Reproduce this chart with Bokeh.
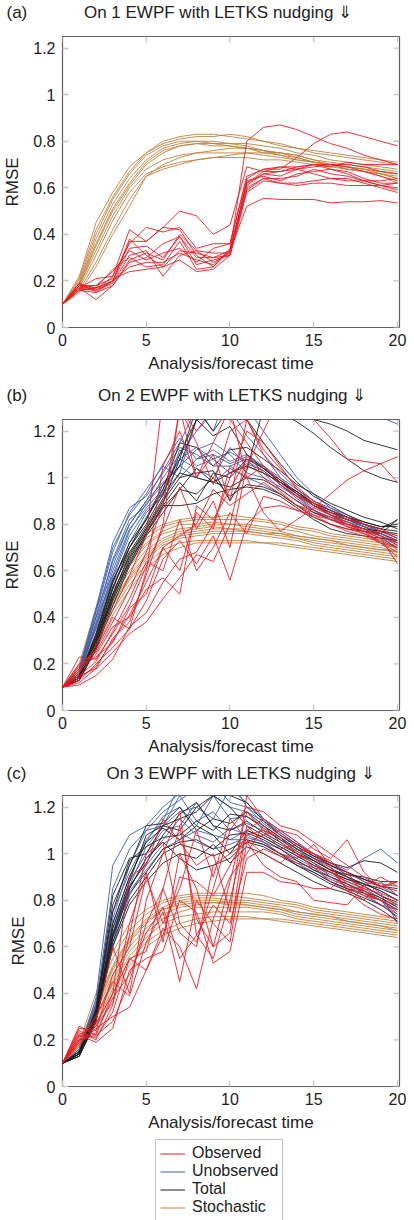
from bokeh.plotting import figure
from bokeh.models import Range1d, FixedTicker, Legend, LegendItem
from bokeh.layouts import column
from bokeh.embed import file_html
from bokeh.resources import INLINE

# ---------------- data ----------------
T = list(range(21))
X_TICKS = [0, 5, 10, 15, 20]
Y_TICKS = [0, 0.2, 0.4, 0.6, 0.8, 1, 1.2]
Y_LABELS = ["0", "0.2", "0.4", "0.6", "0.8", "1", "1.2"]
SERIES = ["Observed", "Unobserved", "Total", "Stochastic"]
PANEL_TAGS = ["(a)", "(b)", "(c)"]
PANEL_TITLES = ["On 1 EWPF with LETKS nudging \u21d3",
                "On 2 EWPF with LETKS nudging \u21d3",
                "On 3 EWPF with LETKS nudging \u21d3"]

# Panel (a): 1 EWPF
A_STOCH = [
    [0.10,0.22,0.45,0.58,0.69,0.75,0.80,0.82,0.83,0.83,0.82,0.81,0.80,0.79,0.77,0.76,0.75,0.74,0.73,0.72,0.71],
    [0.10,0.21,0.42,0.56,0.67,0.75,0.79,0.81,0.82,0.82,0.83,0.82,0.80,0.78,0.77,0.75,0.74,0.73,0.72,0.71,0.70],
    [0.10,0.20,0.40,0.55,0.66,0.74,0.78,0.80,0.80,0.80,0.79,0.79,0.78,0.77,0.75,0.74,0.72,0.71,0.70,0.69,0.68],
    [0.10,0.19,0.38,0.53,0.64,0.72,0.77,0.79,0.80,0.79,0.79,0.78,0.76,0.75,0.74,0.72,0.71,0.70,0.69,0.68,0.67],
    [0.10,0.19,0.36,0.51,0.62,0.71,0.76,0.78,0.79,0.79,0.78,0.77,0.76,0.74,0.73,0.71,0.70,0.69,0.68,0.67,0.66],
    [0.10,0.18,0.35,0.50,0.61,0.70,0.75,0.78,0.79,0.78,0.78,0.77,0.75,0.74,0.72,0.71,0.70,0.68,0.67,0.66,0.65],
    [0.10,0.18,0.33,0.48,0.60,0.68,0.72,0.74,0.75,0.75,0.75,0.75,0.74,0.73,0.72,0.71,0.70,0.69,0.68,0.67,0.66],
    [0.10,0.17,0.31,0.46,0.58,0.66,0.69,0.71,0.72,0.73,0.73,0.73,0.72,0.72,0.71,0.70,0.69,0.68,0.67,0.66,0.64],
    [0.10,0.16,0.28,0.42,0.55,0.65,0.68,0.70,0.72,0.73,0.74,0.75,0.75,0.75,0.74,0.72,0.70,0.69,0.68,0.66,0.64],
    [0.10,0.15,0.26,0.40,0.52,0.65,0.70,0.73,0.75,0.76,0.77,0.77,0.76,0.75,0.73,0.71,0.70,0.68,0.67,0.65,0.62],
]
A_OBS = [
    [0.10,0.19,0.16,0.22,0.42,0.37,0.43,0.42,0.31,0.26,0.33,0.80,0.86,0.87,0.85,0.82,0.79,0.77,0.74,0.72,0.70],
    [0.10,0.18,0.17,0.20,0.37,0.37,0.43,0.50,0.48,0.40,0.44,0.69,0.67,0.69,0.68,0.70,0.70,0.69,0.67,0.65,0.63],
    [0.10,0.17,0.21,0.22,0.36,0.43,0.41,0.43,0.34,0.36,0.36,0.65,0.68,0.68,0.73,0.79,0.83,0.84,0.82,0.80,0.78],
    [0.10,0.19,0.15,0.20,0.34,0.35,0.30,0.39,0.30,0.30,0.33,0.62,0.67,0.67,0.69,0.70,0.69,0.71,0.70,0.70,0.70],
    [0.10,0.16,0.17,0.25,0.30,0.26,0.27,0.37,0.25,0.26,0.34,0.61,0.66,0.65,0.68,0.69,0.70,0.70,0.69,0.67,0.66],
    [0.10,0.18,0.16,0.19,0.31,0.33,0.22,0.31,0.33,0.32,0.32,0.63,0.65,0.63,0.66,0.67,0.68,0.67,0.64,0.62,0.62],
    [0.10,0.17,0.12,0.18,0.28,0.30,0.36,0.39,0.27,0.29,0.31,0.60,0.64,0.64,0.65,0.68,0.66,0.65,0.63,0.61,0.60],
    [0.10,0.18,0.18,0.24,0.33,0.29,0.32,0.34,0.28,0.34,0.36,0.64,0.68,0.69,0.69,0.70,0.68,0.66,0.63,0.61,0.59],
    [0.10,0.16,0.15,0.18,0.29,0.32,0.29,0.40,0.33,0.28,0.32,0.62,0.66,0.67,0.68,0.66,0.64,0.64,0.62,0.60,0.58],
    [0.10,0.17,0.18,0.21,0.24,0.25,0.26,0.29,0.24,0.25,0.31,0.58,0.63,0.62,0.61,0.62,0.62,0.61,0.61,0.61,0.62],
    [0.10,0.17,0.16,0.20,0.38,0.31,0.26,0.33,0.32,0.30,0.31,0.59,0.64,0.62,0.62,0.63,0.64,0.63,0.63,0.63,0.64],
    [0.10,0.16,0.17,0.20,0.26,0.28,0.28,0.32,0.29,0.27,0.33,0.52,0.555,0.55,0.55,0.55,0.535,0.54,0.54,0.545,0.535],
]
A_UNOBS = []
A_TOTAL = []

# Panel (b): 2 EWPF
B_STOCH = [
    [0.10,0.20,0.44,0.58,0.68,0.76,0.80,0.82,0.83,0.83,0.84,0.83,0.82,0.81,0.79,0.78,0.76,0.75,0.74,0.73,0.72],
    [0.10,0.19,0.40,0.55,0.66,0.74,0.79,0.81,0.82,0.82,0.82,0.82,0.81,0.80,0.78,0.77,0.75,0.74,0.73,0.72,0.71],
    [0.10,0.18,0.37,0.52,0.63,0.72,0.77,0.80,0.80,0.81,0.80,0.80,0.79,0.78,0.77,0.75,0.74,0.73,0.72,0.71,0.70],
    [0.10,0.18,0.35,0.50,0.62,0.71,0.76,0.78,0.79,0.80,0.80,0.79,0.78,0.77,0.75,0.74,0.73,0.71,0.70,0.69,0.69],
    [0.10,0.17,0.33,0.48,0.60,0.69,0.74,0.77,0.78,0.79,0.78,0.78,0.77,0.76,0.74,0.73,0.72,0.71,0.70,0.69,0.68],
    [0.10,0.17,0.32,0.47,0.58,0.67,0.73,0.76,0.77,0.78,0.78,0.77,0.76,0.75,0.74,0.72,0.71,0.70,0.69,0.68,0.67],
    [0.10,0.16,0.30,0.45,0.56,0.65,0.71,0.74,0.75,0.76,0.76,0.76,0.75,0.74,0.73,0.71,0.70,0.69,0.68,0.67,0.66],
    [0.10,0.16,0.29,0.43,0.54,0.63,0.69,0.72,0.73,0.73,0.73,0.73,0.72,0.72,0.71,0.70,0.69,0.68,0.67,0.66,0.65],
    [0.10,0.15,0.27,0.41,0.52,0.61,0.67,0.70,0.72,0.72,0.72,0.72,0.72,0.71,0.70,0.69,0.68,0.67,0.66,0.65,0.64],
    [0.10,0.16,0.31,0.46,0.57,0.66,0.72,0.75,0.76,0.77,0.77,0.77,0.76,0.76,0.75,0.74,0.73,0.72,0.71,0.70,0.68],
]
B_UNOBS = [
    [0.10,0.17,0.40,0.65,0.82,0.88,1.00,1.10,1.20,1.28,1.30,1.30,1.30,1.30,1.30,1.30,1.30,1.30,1.30,1.26,1.23],
    [0.10,0.18,0.44,0.72,0.87,0.92,1.02,1.13,1.10,1.05,1.05,1.08,1.05,1.00,0.95,0.90,0.87,0.84,0.80,0.77,0.74],
    [0.10,0.16,0.42,0.68,0.85,0.95,1.05,1.00,1.08,1.10,1.06,1.09,1.04,0.98,0.93,0.88,0.85,0.82,0.79,0.76,0.72],
    [0.10,0.15,0.38,0.62,0.80,0.90,0.98,1.05,1.12,1.15,1.10,1.02,1.00,0.96,0.92,0.87,0.84,0.81,0.78,0.75,0.71],
    [0.10,0.16,0.36,0.60,0.78,0.87,0.95,1.08,1.04,1.00,1.13,1.05,1.02,0.98,0.94,0.89,0.86,0.82,0.79,0.76,0.73],
    [0.10,0.17,0.35,0.57,0.75,0.86,0.93,1.02,1.25,1.35,1.30,1.18,1.10,1.02,0.95,0.90,0.86,0.83,0.80,0.77,0.74],
    [0.10,0.15,0.33,0.55,0.72,0.85,0.92,1.12,1.05,1.08,1.02,1.06,1.03,0.97,0.91,0.86,0.82,0.79,0.77,0.74,0.70],
    [0.10,0.14,0.31,0.53,0.70,0.83,0.94,1.05,1.00,0.98,1.04,1.00,0.97,0.93,0.88,0.85,0.83,0.81,0.79,0.76,0.73],
    [0.10,0.16,0.40,0.64,0.80,0.90,1.03,1.15,1.30,1.20,1.40,1.30,1.20,1.10,1.00,0.93,0.87,0.83,0.79,0.75,0.72],
    [0.10,0.15,0.37,0.58,0.77,0.89,0.97,1.08,1.13,1.08,1.11,1.07,1.03,0.97,0.92,0.86,0.83,0.80,0.78,0.75,0.69],
    [0.10,0.17,0.43,0.70,0.84,0.93,1.06,1.17,1.08,1.12,1.07,1.10,1.05,0.99,0.93,0.89,0.85,0.82,0.79,0.77,0.75],
]
B_TOTAL = [
    [0.10,0.15,0.32,0.55,0.72,0.82,0.95,1.15,1.13,1.05,1.12,1.13,1.08,1.03,0.97,0.93,0.89,0.86,0.83,0.81,0.78],
    [0.10,0.14,0.30,0.52,0.70,0.80,0.93,1.10,1.25,1.30,1.35,1.35,1.34,1.32,1.27,1.25,1.23,1.20,1.16,1.14,1.12],
    [0.10,0.13,0.28,0.50,0.67,0.78,0.90,1.00,1.02,1.03,0.90,1.03,1.30,1.28,1.24,1.19,1.13,1.08,1.03,1.00,0.98],
    [0.10,0.14,0.29,0.48,0.65,0.77,0.88,0.88,0.89,0.93,0.95,0.96,0.95,0.92,0.87,0.82,0.78,0.76,0.75,0.74,0.73],
    [0.10,0.13,0.27,0.47,0.63,0.76,0.87,0.95,0.93,1.00,0.92,0.97,0.96,0.93,0.88,0.83,0.80,0.78,0.77,0.76,0.82],
    [0.10,0.15,0.31,0.53,0.68,0.79,0.91,1.02,1.00,0.98,1.02,1.05,1.02,0.98,0.94,0.89,0.86,0.83,0.80,0.78,0.77],
    [0.10,0.14,0.33,0.56,0.70,0.82,0.97,1.05,1.25,1.18,1.22,1.10,1.04,0.98,0.93,0.88,0.85,0.83,0.81,0.79,0.79],
    [0.10,0.13,0.26,0.45,0.62,0.75,0.85,0.95,1.04,0.98,0.96,1.00,0.99,0.95,0.90,0.85,0.82,0.80,0.78,0.77,0.76],
    [0.10,0.14,0.30,0.50,0.66,0.78,0.89,1.08,1.30,1.20,1.30,1.25,1.15,1.06,0.98,0.92,0.88,0.84,0.81,0.79,0.80],
    [0.10,0.15,0.28,0.49,0.64,0.76,0.88,0.98,0.90,1.02,1.00,1.08,1.04,0.99,0.94,0.88,0.84,0.82,0.80,0.78,0.82],
]
B_OBS = [
    [0.10,0.16,0.28,0.43,0.58,0.75,1.35,1.30,1.20,1.30,1.25,1.15,1.05,0.97,0.92,0.88,0.84,0.80,0.78,0.76,0.73],
    [0.10,0.20,0.25,0.38,0.52,0.68,0.88,1.30,1.00,1.10,0.90,1.25,1.10,1.00,0.93,0.88,0.84,0.81,0.78,0.75,0.72],
    [0.10,0.23,0.22,0.33,0.45,0.62,0.78,0.96,0.78,0.90,0.70,1.05,1.20,1.35,1.30,1.25,1.17,1.08,1.07,1.06,0.98],
    [0.10,0.14,0.19,0.30,0.41,0.55,0.70,0.60,0.85,0.78,1.05,1.00,0.85,0.77,0.82,0.87,0.93,0.99,1.03,1.06,1.09],
    [0.10,0.13,0.20,0.27,0.35,0.47,0.65,0.73,0.63,0.75,0.56,0.80,0.87,0.88,0.86,0.83,0.80,0.77,0.75,0.72,0.68],
    [0.10,0.12,0.18,0.25,0.33,0.38,0.48,0.57,0.67,0.64,0.80,1.10,1.02,0.95,0.90,0.86,0.82,0.80,0.77,0.72,0.70],
    [0.10,0.17,0.24,0.36,0.40,0.52,0.57,0.50,0.88,0.82,0.95,1.08,1.00,0.94,0.88,0.86,0.83,0.79,0.76,0.72,0.66],
    [0.10,0.15,0.21,0.34,0.48,0.64,0.60,0.82,0.60,0.70,0.85,0.76,0.92,0.90,0.86,0.84,0.80,0.78,0.76,0.73,0.70],
    [0.10,0.11,0.15,0.22,0.36,0.42,0.55,0.65,0.68,0.80,1.00,1.20,1.15,1.05,0.95,0.89,0.84,0.80,0.77,0.74,0.63],
    [0.10,0.18,0.26,0.40,0.35,0.60,1.05,1.20,1.00,1.15,1.30,1.00,1.05,0.98,0.92,0.89,0.85,0.82,0.80,0.78,0.75],
    [0.10,0.19,0.23,0.29,0.44,0.50,0.70,0.75,0.80,0.95,0.88,0.93,0.98,0.93,0.88,0.84,0.82,0.79,0.77,0.75,0.71],
    [0.10,0.15,0.18,0.31,0.38,0.58,0.80,1.30,1.15,0.97,1.20,1.25,1.12,1.04,0.96,0.90,0.86,0.83,0.80,0.77,0.74],
]

# Panel (c): 3 EWPF
C_STOCH = [
    [0.10,0.19,0.40,0.58,0.70,0.76,0.80,0.82,0.83,0.83,0.83,0.83,0.82,0.80,0.79,0.77,0.76,0.75,0.74,0.73,0.72],
    [0.10,0.18,0.37,0.55,0.67,0.74,0.79,0.81,0.82,0.82,0.82,0.81,0.80,0.79,0.78,0.76,0.75,0.74,0.73,0.72,0.71],
    [0.10,0.18,0.35,0.52,0.64,0.72,0.77,0.80,0.81,0.81,0.80,0.80,0.79,0.78,0.77,0.75,0.74,0.73,0.72,0.71,0.70],
    [0.10,0.17,0.33,0.50,0.62,0.70,0.76,0.79,0.80,0.80,0.79,0.79,0.78,0.77,0.75,0.74,0.73,0.72,0.71,0.70,0.69],
    [0.10,0.17,0.32,0.48,0.60,0.68,0.74,0.77,0.78,0.79,0.78,0.78,0.77,0.76,0.74,0.73,0.72,0.71,0.70,0.69,0.68],
    [0.10,0.16,0.30,0.46,0.58,0.66,0.72,0.75,0.77,0.77,0.77,0.77,0.76,0.75,0.73,0.72,0.71,0.70,0.69,0.68,0.67],
    [0.10,0.16,0.29,0.44,0.56,0.64,0.70,0.73,0.74,0.75,0.75,0.75,0.75,0.74,0.72,0.71,0.70,0.69,0.68,0.67,0.66],
    [0.10,0.15,0.27,0.42,0.54,0.62,0.67,0.70,0.72,0.73,0.73,0.73,0.72,0.72,0.71,0.70,0.69,0.68,0.67,0.66,0.65],
    [0.10,0.15,0.26,0.40,0.52,0.60,0.65,0.68,0.70,0.71,0.72,0.72,0.72,0.71,0.70,0.69,0.68,0.67,0.66,0.65,0.64],
    [0.10,0.17,0.34,0.51,0.63,0.71,0.76,0.78,0.79,0.79,0.79,0.78,0.77,0.76,0.75,0.74,0.73,0.71,0.70,0.69,0.67],
]
C_UNOBS = [
    [0.10,0.15,0.38,0.95,1.08,1.12,1.20,1.26,1.30,1.25,1.20,1.18,1.14,1.09,1.04,1.00,0.96,0.93,0.98,1.02,0.96],
    [0.10,0.16,0.36,0.85,1.02,1.10,1.18,1.23,1.28,1.30,1.22,1.20,1.15,1.10,1.05,1.00,0.95,0.92,0.89,0.86,0.82],
    [0.10,0.14,0.33,0.72,0.95,1.10,1.12,1.25,1.14,1.18,1.10,1.13,1.10,1.06,1.02,0.97,0.93,0.90,0.87,0.84,0.80],
    [0.10,0.15,0.34,0.70,0.90,1.05,1.16,1.20,1.12,1.25,1.15,1.16,1.12,1.07,1.02,0.98,0.94,0.90,0.86,0.82,0.78],
    [0.10,0.14,0.31,0.65,0.88,1.00,1.10,1.12,1.22,1.12,1.06,1.10,1.07,1.03,0.99,0.95,0.91,0.88,0.85,0.81,0.77],
    [0.10,0.15,0.30,0.62,0.85,0.98,1.06,1.15,1.08,1.05,1.11,1.08,1.05,1.00,0.97,0.93,0.89,0.86,0.84,0.80,0.74],
    [0.10,0.16,0.35,0.75,0.92,1.06,1.14,1.30,1.26,1.30,1.32,1.20,1.13,1.08,1.03,0.99,0.95,0.92,0.88,0.83,0.70],
    [0.10,0.14,0.29,0.60,0.82,0.95,1.04,1.09,1.05,1.02,1.04,1.07,1.05,1.02,0.98,0.94,0.90,0.87,0.83,0.80,0.72],
    [0.10,0.15,0.32,0.68,0.86,1.03,1.12,1.18,1.20,1.15,1.28,1.22,1.15,1.09,1.04,0.99,0.95,0.91,0.89,0.87,0.86],
    [0.10,0.15,0.31,0.64,0.84,0.93,1.02,1.06,1.10,1.08,1.06,1.06,1.04,1.00,0.96,0.92,0.88,0.85,0.82,0.78,0.76],
]
C_TOTAL = [
    [0.10,0.14,0.33,0.82,0.98,1.00,1.12,1.15,1.18,1.25,1.25,1.22,1.14,1.08,1.03,0.99,0.96,0.94,0.97,0.96,0.92],
    [0.10,0.15,0.32,0.75,0.97,1.03,1.07,1.08,1.14,1.10,1.17,1.16,1.11,1.06,1.01,0.97,0.93,0.90,0.87,0.85,0.82],
    [0.10,0.14,0.30,0.70,0.90,1.05,1.11,1.06,1.12,1.08,1.00,1.10,1.07,1.03,0.99,0.95,0.92,0.89,0.86,0.82,0.79],
    [0.10,0.13,0.29,0.65,0.85,0.98,1.05,0.98,0.93,0.95,0.98,1.05,1.03,0.99,0.95,0.92,0.88,0.85,0.83,0.80,0.76],
    [0.10,0.14,0.31,0.68,0.88,1.08,1.12,1.10,1.20,1.25,1.20,1.12,1.08,1.04,1.00,0.96,0.92,0.89,0.87,0.84,0.80],
    [0.10,0.13,0.28,0.62,0.80,0.90,1.00,1.04,1.02,0.99,1.02,1.06,1.04,1.00,0.95,0.91,0.87,0.84,0.81,0.78,0.73],
    [0.10,0.14,0.30,0.66,0.86,0.96,1.08,1.17,1.22,1.12,1.10,1.14,1.09,1.05,1.00,0.97,0.93,0.91,0.90,0.88,0.88],
    [0.10,0.15,0.33,0.78,0.95,1.12,1.13,1.20,1.10,1.15,1.13,1.18,1.12,1.07,1.02,0.98,0.95,0.92,0.89,0.86,0.85],
    [0.10,0.13,0.28,0.60,0.78,0.88,0.96,1.00,0.98,1.04,0.96,1.03,1.00,0.96,0.92,0.88,0.85,0.83,0.80,0.76,0.71],
    [0.10,0.14,0.29,0.64,0.83,0.92,1.02,1.05,1.06,1.02,1.08,1.09,1.06,1.02,0.97,0.93,0.90,0.87,0.84,0.81,0.77],
]
C_OBS = [
    [0.10,0.26,0.22,0.40,0.90,0.95,1.15,1.05,0.95,1.00,0.75,1.25,1.15,1.10,1.08,1.02,0.98,1.06,0.92,0.85,0.88],
    [0.10,0.24,0.20,0.35,0.65,1.00,1.05,0.70,0.62,0.85,1.10,1.20,1.18,1.12,1.10,1.05,1.00,0.95,0.90,0.86,0.84],
    [0.10,0.22,0.28,0.60,0.40,0.80,1.00,1.18,0.65,0.55,0.80,1.10,1.15,1.08,1.04,1.00,0.94,0.87,0.83,0.80,0.78],
    [0.10,0.20,0.30,0.45,0.39,0.62,0.75,0.45,0.80,0.70,0.62,1.05,1.08,1.10,1.05,0.98,0.93,0.85,0.80,0.88,0.82],
    [0.10,0.18,0.25,0.30,0.34,0.50,0.68,0.60,0.42,0.72,0.90,1.00,1.12,1.05,1.00,0.96,0.90,0.86,0.82,0.80,0.76],
    [0.10,0.22,0.19,0.25,0.50,0.55,0.58,0.80,0.75,0.53,0.58,0.92,0.92,0.88,0.87,0.85,0.85,0.92,0.83,0.78,0.74],
    [0.10,0.25,0.24,0.48,0.60,0.90,0.70,0.85,1.10,0.90,1.15,1.06,1.00,0.96,1.02,1.00,0.96,0.92,0.88,0.86,0.88],
    [0.10,0.20,0.22,0.28,0.45,0.70,0.85,1.12,0.72,0.60,0.88,1.18,1.10,1.02,1.04,1.00,0.97,0.90,0.84,0.80,0.75],
    [0.10,0.21,0.27,0.40,0.55,0.58,0.85,0.66,0.60,0.95,1.00,1.05,0.95,0.90,0.88,0.80,0.79,0.78,0.86,0.82,0.78],
    [0.10,0.19,0.26,0.36,0.70,0.92,0.62,1.00,0.85,0.60,0.66,1.12,1.05,1.00,0.98,1.04,0.95,0.84,0.78,0.74,0.72],
    [0.10,0.23,0.21,0.32,0.55,0.50,0.65,0.90,0.88,0.82,0.95,1.08,1.10,1.07,1.00,0.94,0.88,0.84,0.86,0.90,0.86],
    [0.10,0.20,0.23,0.38,0.48,0.66,0.77,0.55,0.65,0.78,0.70,0.98,1.02,0.99,0.96,0.94,0.92,0.88,0.85,0.83,0.80],
]

# ---------------- styling ----------------
COL_OBS = "#ec1c24"
COL_UNOBS = "#3d5fb0"
COL_TOTAL = "#1e1e1e"
COL_STOCH = "#bf8040"
SERIES_COLORS = {"Observed": COL_OBS, "Unobserved": COL_UNOBS,
                 "Total": COL_TOTAL, "Stochastic": COL_STOCH}
FONT = "Liberation Sans"
TEXT_COL = "#222222"
TICK_COL = "#c4c4c4"
LW = 0.9
X_MAX = 20.12
Y_MAX = 1.25
FRAME_W = 337
FRAME_H = 291
LEFT = 56
RIGHT = 13
TICK_PX = 6
NBSP = "\u00a0"


def style_axis(ax, ticks):
    ax.ticker = FixedTicker(ticks=ticks)
    ax.axis_line_color = None
    ax.major_tick_in = TICK_PX
    ax.major_tick_out = 0
    ax.major_tick_line_color = TICK_COL
    ax.major_tick_line_width = 1.3
    ax.minor_tick_line_color = None
    ax.major_label_text_font = FONT
    ax.major_label_text_font_size = "16px"
    ax.major_label_text_color = TEXT_COL
    ax.axis_label_text_font = FONT
    ax.axis_label_text_font_size = "17px"
    ax.axis_label_text_font_style = "normal"
    ax.axis_label_text_color = TEXT_COL


def make_panel(idx, obs, unobs, total, stoch, top, bottom, gap, lift, ylab_standoff):
    p = figure(frame_width=FRAME_W, frame_height=FRAME_H,
               min_border_left=LEFT, min_border_right=RIGHT,
               min_border_top=top, min_border_bottom=bottom,
               x_range=Range1d(0, X_MAX), y_range=Range1d(0, Y_MAX),
               output_backend="svg", toolbar_location=None)
    p.grid.visible = False
    p.background_fill_color = "white"
    p.border_fill_color = "white"
    p.outline_line_color = "#606060"
    p.outline_line_width = 1.2

    # panel tag and title share the heading line
    p.title.text = PANEL_TAGS[idx] + NBSP * gap + PANEL_TITLES[idx]
    p.title.text_font = FONT
    p.title.text_font_size = "17px"
    p.title.text_font_style = "normal"
    p.title.text_color = TEXT_COL
    p.title.align = "left"
    p.title.offset = -LEFT
    try:
        p.title.padding = dict(left=0, right=0, top=0, bottom=lift)
        p.title.standoff = 0
    except Exception:
        p.title.standoff = lift

    style_axis(p.xaxis[0], X_TICKS)
    style_axis(p.yaxis[0], Y_TICKS)
    p.xaxis[0].axis_label = "Analysis/forecast time"
    p.yaxis[0].axis_label = "RMSE"
    p.xaxis[0].major_label_standoff = 6
    p.xaxis[0].axis_label_standoff = 5
    p.yaxis[0].major_label_standoff = 7
    p.yaxis[0].axis_label_standoff = ylab_standoff
    p.yaxis[0].major_label_overrides = {t: l for t, l in zip(Y_TICKS, Y_LABELS)}

    # mirrored inward ticks on the top and right frame edges
    ty = TICK_PX * Y_MAX / FRAME_H
    tx = TICK_PX * X_MAX / FRAME_W
    p.segment(x0=X_TICKS, y0=[Y_MAX] * len(X_TICKS), x1=X_TICKS, y1=[Y_MAX - ty] * len(X_TICKS),
              line_color=TICK_COL, line_width=1.3)
    p.segment(x0=[X_MAX] * len(Y_TICKS), y0=Y_TICKS, x1=[X_MAX - tx] * len(Y_TICKS), y1=Y_TICKS,
              line_color=TICK_COL, line_width=1.3)

    for name, data in (("Stochastic", stoch), ("Unobserved", unobs),
                       ("Total", total), ("Observed", obs)):
        if data:
            p.multi_line(xs=[T] * len(data), ys=data,
                         line_color=SERIES_COLORS[name], line_width=LW)
    return p


fa = make_panel(0, A_OBS, A_UNOBS, A_TOTAL, A_STOCH, 35, 54, 12, 15, 8)
fb = make_panel(1, B_OBS, B_UNOBS, B_TOTAL, B_STOCH, 38, 51, 15, 15, 8)
fc = make_panel(2, C_OBS, C_UNOBS, C_TOTAL, C_STOCH, 32, 49, 17, 13, 2)

# legend box below panel (c); its proxy renderers carry panel (c) series but
# the view range is placed so that they are not drawn in this strip
fl = figure(frame_width=FRAME_W, frame_height=83, min_border_left=LEFT, min_border_right=RIGHT,
            min_border_top=3, min_border_bottom=0,
            x_range=Range1d(-2, -1), y_range=Range1d(0, 1),
            x_axis_type=None, y_axis_type=None,
            output_backend="svg", toolbar_location=None)
fl.grid.visible = False
fl.outline_line_color = None
fl.background_fill_color = "white"
fl.border_fill_color = "white"
proxy = {"Observed": C_OBS, "Unobserved": C_UNOBS, "Total": C_TOTAL, "Stochastic": C_STOCH}
items = []
for s in SERIES:
    r = fl.multi_line(xs=[T], ys=[proxy[s][0]], line_color=SERIES_COLORS[s], line_width=1.0)
    items.append(LegendItem(label=s, renderers=[r]))
legend = Legend(
    items=items, location=(157 - 8 - LEFT, 0), orientation="vertical",
    label_text_font=FONT, label_text_font_size="16px", label_text_color=TEXT_COL,
    glyph_width=25, glyph_height=17, label_height=17, spacing=0,
    padding=4, margin=0, label_standoff=7,
    border_line_color="#888888", border_line_width=1.2,
    background_fill_color="white", background_fill_alpha=1.0,
)
fl.add_layout(legend)

layout = column(fa, fb, fc, fl, spacing=0)
open("out.html", "w").write(file_html(layout, INLINE))
